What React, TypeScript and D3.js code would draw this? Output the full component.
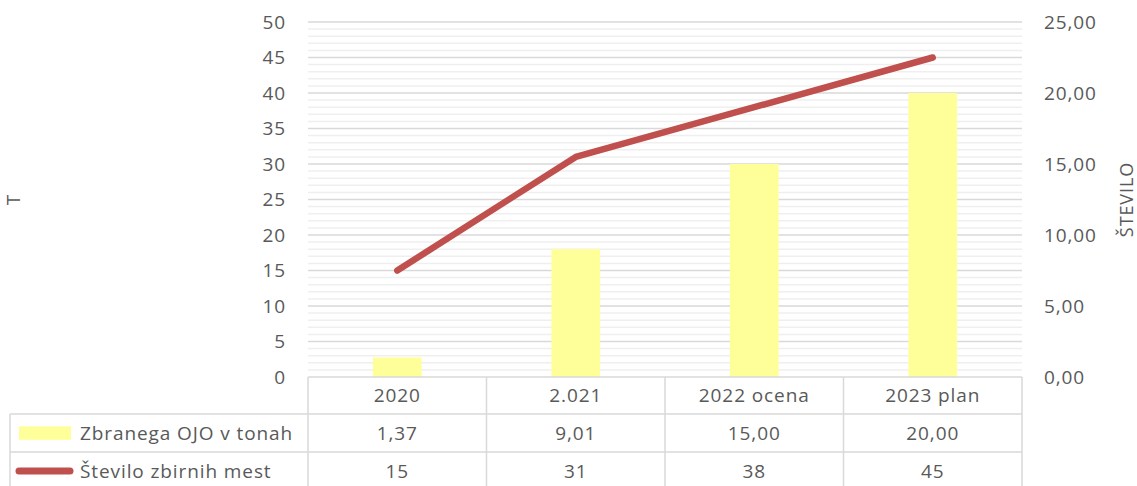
import React from 'react';
import * as d3 from 'd3';

// chart data
const categories = ['2020', '2.021', '2022 ocena', '2023 plan'];
const tonnesLabels = ['1,37', '9,01', '15,00', '20,00'];
const tonnes = [1.37, 9.01, 15.0, 20.0];
const sitesLabels = ['15', '31', '38', '45'];
const sites = [15, 31, 38, 45];
const leftTicks = [0, 5, 10, 15, 20, 25, 30, 35, 40, 45, 50];
const rightTicks = [0, 5, 10, 15, 20, 25];
const seriesNames = ['Zbranega OJO v tonah', 'Število zbirnih mest'];

const W = 1137;
const H = 486;
const plot = { left: 308, right: 1022, top: 22, bottom: 377 };
const rowLines = [377, 414, 452, 490];
const tableLeft = 10;

const FONT = "'Open Sans', 'Noto Sans', sans-serif";
const FS = 19;
const LS = 0.9;
const TXT = '#595959';
const GRID = '#d9d9d9';
const MINOR = '#efefef';
const BAR = '#ffff99';
const LINE = '#c0504d';

const App: React.FC = () => {
  const x = d3.scaleBand<string>().domain(categories).range([plot.left, plot.right]);
  const yL = d3.scaleLinear().domain([0, 50]).range([plot.bottom, plot.top]);
  const yR = d3.scaleLinear().domain([0, 25]).range([plot.bottom, plot.top]);
  const minorTicks = d3.range(0, 51, 1).filter((v) => v % 5 !== 0);
  const barW = x.bandwidth() * 0.273;
  const cx = (c: string) => (x(c) as number) + x.bandwidth() / 2;

  const line = d3
    .line<number>()
    .x((_, i) => cx(categories[i]))
    .y((d) => yL(d));

  const colEdges = categories.map((c) => x(c) as number).concat([plot.right]);
  const mid = (i: number) => (rowLines[i] + rowLines[i + 1]) / 2;

  return (
    <svg
      width={W}
      height={H}
      style={{ position: 'fixed', left: 0, top: 0, background: '#fff' }}
      fontFamily={FONT}
      letterSpacing={LS}
    >
      {/* minor gridlines */}
      {minorTicks.map((t) => (
        <line key={'m' + t} x1={plot.left} x2={plot.right} y1={yL(t)} y2={yL(t)} stroke={MINOR} strokeWidth={1.5} />
      ))}
      {/* major gridlines */}
      {leftTicks.slice(1).map((t) => (
        <line key={'g' + t} x1={plot.left} x2={plot.right} y1={yL(t)} y2={yL(t)} stroke={GRID} strokeWidth={1.5} />
      ))}

      {/* bars on the right axis */}
      {tonnes.map((v, i) => (
        <rect
          key={'b' + i}
          x={cx(categories[i]) - barW / 2}
          y={yR(v)}
          width={barW}
          height={yR(0) - yR(v)}
          fill={BAR}
        />
      ))}

      {/* line on the left axis */}
      <path d={line(sites) || ''} fill="none" stroke={LINE} strokeWidth={6.5} strokeLinecap="round" strokeLinejoin="round" />

      {/* left axis */}
      {leftTicks.map((t) => (
        <text key={'l' + t} x={286} y={yL(t)} dy="0.35em" textAnchor="end" fontSize={FS} fill={TXT}>
          {t}
        </text>
      ))}
      {/* right axis */}
      {rightTicks.map((t) => (
        <text key={'r' + t} x={1044} y={yR(t)} dy="0.35em" textAnchor="start" fontSize={FS} fill={TXT}>
          {t.toFixed(2).replace('.', ',')}
        </text>
      ))}

      <text transform={`translate(20,${(plot.top + plot.bottom) / 2}) rotate(-90)`} textAnchor="middle" fontSize={FS} fill={TXT}>
        T
      </text>
      <text transform={`translate(1133,${(plot.top + plot.bottom) / 2}) rotate(-90)`} textAnchor="middle" fontSize={18} fill={TXT}>
        ŠTEVILO
      </text>

      {/* data table */}
      <g stroke={GRID} strokeWidth={1.5} fill="none">
        <line x1={plot.left} x2={plot.right} y1={rowLines[0]} y2={rowLines[0]} />
        <line x1={tableLeft} x2={plot.right} y1={rowLines[1]} y2={rowLines[1]} />
        <line x1={tableLeft} x2={plot.right} y1={rowLines[2]} y2={rowLines[2]} />
        <line x1={tableLeft} x2={tableLeft} y1={rowLines[1]} y2={rowLines[3]} />
        {colEdges.map((ex, i) => (
          <line key={'c' + i} x1={ex} x2={ex} y1={rowLines[0]} y2={rowLines[3]} />
        ))}
      </g>

      {categories.map((c, i) => (
        <g key={'t' + i} fontSize={FS} fill={TXT} textAnchor="middle">
          <text x={cx(c)} y={mid(0)} dy="0.35em">
            {c}
          </text>
          <text x={cx(c)} y={mid(1)} dy="0.35em">
            {tonnesLabels[i]}
          </text>
          <text x={cx(c)} y={mid(2)} dy="0.35em">
            {sitesLabels[i]}
          </text>
        </g>
      ))}

      {/* legend keys inside table */}
      <rect x={19} y={mid(1) - 6.7} width={52} height={13.5} fill={BAR} />
      <line x1={19} x2={70} y1={mid(2)} y2={mid(2)} stroke={LINE} strokeWidth={7} strokeLinecap="round" />
      <text x={80} y={mid(1)} dy="0.35em" fontSize={FS} fill={TXT}>
        {seriesNames[0]}
      </text>
      <text x={80} y={mid(2)} dy="0.35em" fontSize={FS} fill={TXT}>
        {seriesNames[1]}
      </text>
    </svg>
  );
};

export default App;
